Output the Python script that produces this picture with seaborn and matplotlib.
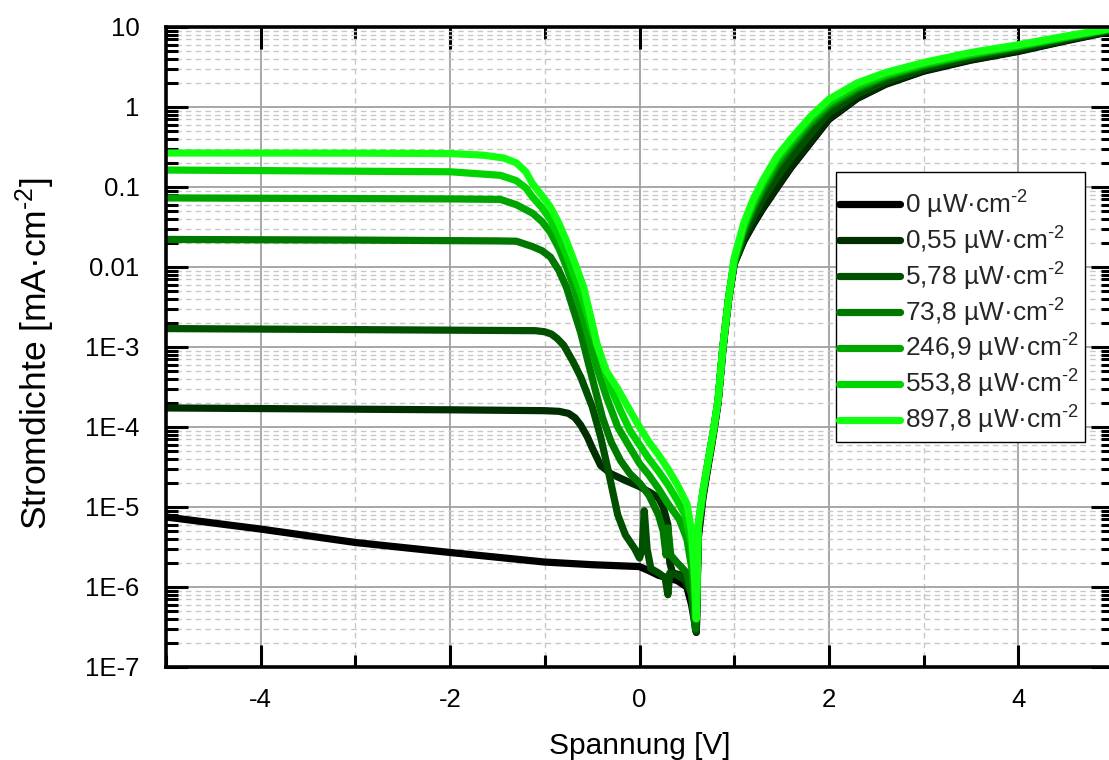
import numpy as np
import pandas as pd
import matplotlib
matplotlib.use("Agg")
import matplotlib.pyplot as plt
import seaborn as sns
from matplotlib.ticker import FixedLocator, NullFormatter
from matplotlib.legend_handler import HandlerLine2D

# ---------------- data ----------------
labels = ["0 µW·cm$^{\\text{-2}}$", "0,55 µW·cm$^{\\text{-2}}$", "5,78 µW·cm$^{\\text{-2}}$",
          "73,8 µW·cm$^{\\text{-2}}$", "246,9 µW·cm$^{\\text{-2}}$", "553,8 µW·cm$^{\\text{-2}}$",
          "897,8 µW·cm$^{\\text{-2}}$"]
colors = ["#000000", "#002e00", "#005000", "#007800", "#00a400", "#00d400", "#11ff11"]

v0 = [-5, -4, -3, -2, -1, -0.5, 0.0, 0.1, 0.2, 0.3, 0.4, 0.5, 0.55, 0.6,
      0.62, 0.67, 0.72, 0.78, 0.83, 0.88, 0.94, 1.0, 1.1, 1.2, 1.3, 1.45, 1.6, 1.8,
      2.0, 2.3, 2.6, 3.0, 3.5, 4.0, 4.5, 5.0]
j0 = [7.5e-6, 5.3e-6, 3.6e-6, 2.7e-6, 2.05e-6, 1.9e-6, 1.8e-6, 1.6e-6, 1.4e-6, 1.3e-6, 1.2e-6, 1.0e-6, 6e-7, 2.7e-7,
      4e-6, 1.3e-5, 3e-5, 8e-5, 2e-4, 9e-4, 3.8e-3, 0.011, 0.021, 0.034, 0.053, 0.097, 0.175, 0.35,
      0.7, 1.28, 1.92, 2.8, 3.85, 4.95, 6.7, 8.9]

v1 = [-5, -4, -3, -2, -1, -0.85, -0.75, -0.68, -0.62, -0.55, -0.5, -0.41, -0.3, -0.17, 0.0, 0.12, 0.2, 0.25,
      0.3, 0.32, 0.35, 0.45, 0.55, 0.6,
      0.62, 0.67, 0.72, 0.78, 0.83, 0.88, 0.94, 1.0, 1.1, 1.2, 1.3, 1.45, 1.6, 1.8,
      2.0, 2.3, 2.6, 3.0, 3.5, 4.0, 4.5, 5.0]
j1 = [1.73e-4, 1.7e-4, 1.67e-4, 1.64e-4, 1.6e-4, 1.57e-4, 1.48e-4, 1.3e-4, 1.05e-4, 7.5e-5, 5.5e-5, 3.3e-5, 2.6e-5, 2.2e-5, 1.8e-5, 1.5e-5, 1.3e-5, 1e-5,
      6e-6, 2e-6, 1.5e-6, 1.4e-6, 8e-7, 2.8e-7,
      4.5e-6, 1.4e-5, 3.2e-5, 8.5e-5, 2.1e-4, 9.5e-4, 3.9e-3, 0.011, 0.021, 0.035, 0.055, 0.1, 0.18, 0.36,
      0.72, 1.3, 1.95, 2.85, 3.9, 5.0, 6.8, 9.0]

v2 = [-5, -3, -1.1, -1.0, -0.93, -0.87, -0.8, -0.7, -0.62, -0.5, -0.41, -0.32, -0.23, -0.15, -0.05, 0.0, 0.03,
      0.05, 0.08, 0.12, 0.2, 0.27, 0.3, 0.32, 0.4, 0.5, 0.55, 0.6,
      0.62, 0.67, 0.72, 0.78, 0.83, 0.88, 0.94, 1.0, 1.1, 1.2, 1.3, 1.45, 1.6, 1.8,
      2.0, 2.3, 2.6, 3.0, 3.5, 4.0, 4.5, 5.0]
j2 = [1.7e-3, 1.65e-3, 1.6e-3, 1.55e-3, 1.45e-3, 1.28e-3, 1.05e-3, 6.5e-4, 4.2e-4, 1.8e-4, 7.5e-5, 2.5e-5, 8e-6, 4.5e-6, 3e-6, 2.3e-6, 3e-6,
      9e-6, 3e-6, 1.7e-6, 1.5e-6, 1.3e-6, 8e-7, 1.5e-6, 1.4e-6, 1.2e-6, 8e-7, 2.8e-7,
      5e-6, 1.5e-5, 3.3e-5, 8.7e-5, 2.1e-4, 9.7e-4, 3.9e-3, 0.011, 0.024, 0.042, 0.07, 0.13, 0.23, 0.45,
      0.85, 1.45, 2.1, 3.0, 4.1, 5.3, 7.0, 9.2]

v3 = [-5, -3, -1.5, -1.3, -1.13, -1.03, -0.94, -0.85, -0.77, -0.7, -0.62, -0.55, -0.47, -0.39, -0.3, -0.2, -0.1, 0.0,
      0.1, 0.2, 0.25, 0.28, 0.3, 0.33, 0.4, 0.5, 0.55, 0.59,
      0.62, 0.67, 0.72, 0.78, 0.83, 0.88, 0.94, 1.0, 1.1, 1.2, 1.3, 1.45, 1.6, 1.8,
      2.0, 2.3, 2.6, 3.0, 3.5, 4.0, 4.5, 5.0]
j3 = [0.0221, 0.0217, 0.0212, 0.021, 0.018, 0.016, 0.0133, 9e-3, 5.5e-3, 3e-3, 1.5e-3, 7e-4, 3e-4, 1.3e-4, 6.5e-5, 3.8e-5, 2.6e-5, 2e-5,
      1.4e-5, 8e-6, 5e-6, 2.5e-6, 5.5e-6, 2.5e-6, 2e-6, 1.5e-6, 8e-7, 3e-7,
      5e-6, 1.5e-5, 3.4e-5, 8.8e-5, 2.15e-4, 1e-3, 4e-3, 0.011, 0.028, 0.053, 0.09, 0.18, 0.31, 0.6,
      1.0, 1.65, 2.35, 3.25, 4.4, 5.6, 7.3, 9.4]

v4 = [-5, -2, -1.47, -1.3, -1.13, -1.03, -0.94, -0.85, -0.77, -0.68, -0.6, -0.52, -0.45, -0.35, -0.23, -0.1, 0.0,
      0.1, 0.2, 0.3, 0.42, 0.5, 0.56, 0.59,
      0.62, 0.67, 0.72, 0.78, 0.83, 0.88, 0.94, 1.0, 1.1, 1.2, 1.3, 1.45, 1.6, 1.8,
      2.0, 2.3, 2.6, 3.0, 3.5, 4.0, 4.5, 5.0]
j4 = [0.073, 0.071, 0.07, 0.06, 0.047, 0.037, 0.027, 0.017, 0.01, 5e-3, 2.4e-3, 1.1e-3, 5.5e-4, 2.4e-4, 1e-4, 5.5e-5, 3.5e-5,
      2.5e-5, 1.7e-5, 1.1e-5, 7e-6, 4e-6, 1.5e-6, 4e-7,
      5.5e-6, 1.5e-5, 3.4e-5, 8.9e-5, 2.2e-4, 1e-3, 4e-3, 0.012, 0.03, 0.058, 0.1, 0.2, 0.34, 0.65,
      1.08, 1.75, 2.45, 3.35, 4.5, 5.7, 7.4, 9.5]

v5 = [-5, -2, -1.47, -1.3, -1.2, -1.13, -1.03, -0.94, -0.85, -0.77, -0.7, -0.6, -0.5, -0.4, -0.3, -0.2, -0.1, 0.0,
      0.1, 0.2, 0.3, 0.4, 0.48, 0.55, 0.58, 0.6,
      0.62, 0.67, 0.72, 0.78, 0.83, 0.88, 0.94, 1.0, 1.1, 1.2, 1.3, 1.45, 1.6, 1.8,
      2.0, 2.3, 2.6, 3.0, 3.5, 4.0, 4.5, 5.0]
j5 = [0.163, 0.155, 0.14, 0.12, 0.097, 0.075, 0.055, 0.039, 0.024, 0.014, 8.5e-3, 4e-3, 1.6e-3, 7e-4, 3e-4, 1.6e-4, 9e-5, 6e-5,
      4e-5, 2.8e-5, 1.9e-5, 1.2e-5, 8e-6, 3.5e-6, 1.2e-6, 4e-7,
      6e-6, 1.6e-5, 3.5e-5, 9e-5, 2.2e-4, 1e-3, 4e-3, 0.012, 0.032, 0.063, 0.11, 0.22, 0.37, 0.7,
      1.15, 1.85, 2.55, 3.45, 4.6, 5.8, 7.5, 9.6]

v6 = [-5, -3, -2, -1.65, -1.43, -1.3, -1.2, -1.13, -1.03, -0.94, -0.85, -0.77, -0.68, -0.59, -0.5, -0.45, -0.35, -0.23, -0.1, 0.0,
      0.1, 0.2, 0.3, 0.4, 0.5, 0.55, 0.58, 0.6,
      0.62, 0.67, 0.72, 0.78, 0.83, 0.88, 0.94, 1.0, 1.1, 1.2, 1.3, 1.45, 1.6, 1.8,
      2.0, 2.3, 2.6, 3.0, 3.5, 4.0, 4.5, 5.0]
j6 = [0.266, 0.265, 0.262, 0.25, 0.23, 0.2, 0.155, 0.11, 0.078, 0.056, 0.035, 0.021, 0.011, 5.6e-3, 2e-3, 1.1e-3, 5e-4, 3e-4, 1.6e-4, 1e-4,
      6.5e-5, 4.5e-5, 3e-5, 1.9e-5, 1.1e-5, 5e-6, 1.5e-6, 4e-7,
      6e-6, 1.6e-5, 3.5e-5, 9e-5, 2.2e-4, 1e-3, 4e-3, 0.013, 0.035, 0.07, 0.12, 0.24, 0.4, 0.75,
      1.25, 2.0, 2.7, 3.6, 4.8, 6.0, 7.7, 9.7]

voltages = [v0, v1, v2, v3, v4, v5, v6]
currents = [j0, j1, j2, j3, j4, j5, j6]

ytick_vals = [1e-7, 1e-6, 1e-5, 1e-4, 1e-3, 0.01, 0.1, 1, 10]
ytick_labels = ["1E-7", "1E-6", "1E-5", "1E-4", "1E-3", "0.01", "0.1", "1", "10"]
xtick_vals = [-4, -2, 0, 2, 4]
xtick_labels = ["-4", "-2", "0", "2", "4"]

# ---------------- styling ----------------
sns.set_theme(style="white")
plt.rcParams["font.family"] = ["Liberation Sans", "DejaVu Sans"]
plt.rcParams["mathtext.fontset"] = "custom"
plt.rcParams["mathtext.rm"] = "Liberation Sans"
plt.rcParams["mathtext.it"] = "Liberation Sans:italic"
plt.rcParams["mathtext.bf"] = "Liberation Sans:bold"
plt.rcParams["axes.unicode_minus"] = False

fig = plt.figure(figsize=(11.09, 7.6), dpi=100)
ax = fig.add_axes([166 / 1109, 93 / 760, 947 / 1109, 640 / 760])

frames = []
for i, (v, j) in enumerate(zip(voltages, currents)):
    frames.append(pd.DataFrame({"V": v, "J": j, "series": labels[i]}))
df = pd.concat(frames, ignore_index=True)

sns.lineplot(data=df, x="V", y="J", hue="series", hue_order=labels,
             palette=colors, sort=False, estimator=None, units="series",
             linewidth=5.2, ax=ax, legend=False)
for ln in ax.get_lines():
    ln.set_solid_capstyle("round")
    ln.set_solid_joinstyle("round")

ax.set_yscale("log")
ax.set_xlim(-5, 5)
ax.set_ylim(1e-7, 10)

ax.yaxis.set_major_locator(FixedLocator(ytick_vals))
ax.set_yticklabels(ytick_labels)
minor_y = [m * 10.0 ** e for e in range(-7, 1) for m in range(2, 10)]
ax.yaxis.set_minor_locator(FixedLocator(minor_y))
ax.yaxis.set_minor_formatter(NullFormatter())
ax.set_xticks(xtick_vals)
ax.set_xticklabels(xtick_labels)
ax.xaxis.set_minor_locator(FixedLocator([-5, -3, -1, 1, 3, 5]))

ax.grid(which="major", color="#a0a0a0", linewidth=1.3, linestyle="-")
ax.grid(which="minor", color="#c8c8c8", linewidth=1.0, linestyle=(0, (4, 3)))
ax.set_axisbelow(True)

for s in ax.spines.values():
    s.set_linewidth(2.6)
    s.set_color("black")
    s.set_visible(True)

ax.tick_params(which="both", direction="in", top=True, right=True, left=True, bottom=True,
               width=2.2, color="black")
ax.tick_params(which="major", length=16, labelsize=18.5, labelcolor="black")
ax.tick_params(which="minor", length=8.5)
ax.tick_params(axis="y", which="major", pad=19)
ax.tick_params(axis="x", which="major", pad=15)

ax.set_xlabel("Spannung [V]", fontsize=21.5, color="black")
ax.set_ylabel("Stromdichte [mA·cm$^{\\text{-2}}$]", fontsize=25.5, color="black")
ax.xaxis.set_label_coords(0.5, -0.101)
ax.yaxis.set_label_coords(-0.115, 0.49)


class FlushHandler(HandlerLine2D):
    def __init__(self, shift, **kw):
        super().__init__(**kw)
        self.shift = shift

    def get_xdata(self, legend, xdescent, ydescent, width, height, fontsize):
        xd, xm = super().get_xdata(legend, xdescent, ydescent, width, height, fontsize)
        xd = np.array(xd, dtype=float)
        xd[0] = xd[0] - self.shift
        return xd, xm


handles = ax.get_lines()[:7]
fs = 18.9
leg = ax.legend(handles, labels, loc="upper left", bbox_to_anchor=(0.7075, 0.773),
                fontsize=fs, frameon=True, fancybox=False, edgecolor="black",
                handlelength=2.2, handletextpad=0.2, labelspacing=0.14,
                borderpad=0.22, borderaxespad=0.0, framealpha=1,
                title=" ", title_fontsize=6,
                handler_map={h: FlushHandler(shift=2.2) for h in handles})
leg.get_frame().set_linewidth(1.0)
for lh in leg.get_lines():
    lh.set_linewidth(5.2)
    lh.set_solid_capstyle("round")

fig.savefig("out.png", dpi=100)
